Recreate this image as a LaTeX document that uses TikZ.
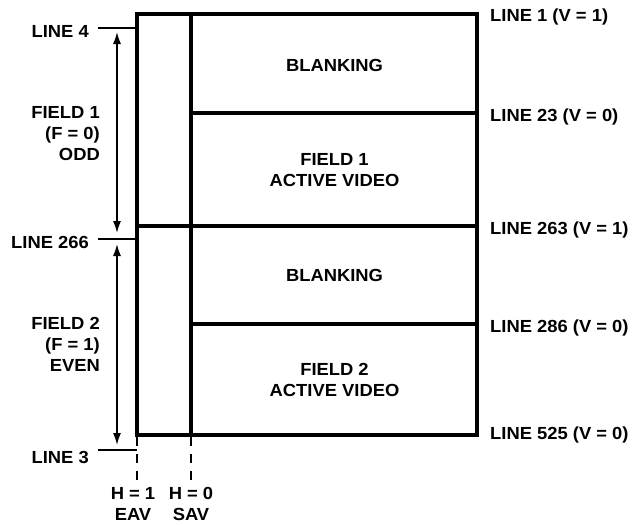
\documentclass[tikz,border=0pt]{standalone}
\usepackage{fontspec}
\setmainfont{Liberation Sans}[FakeStretch=1.05]
\usetikzlibrary{arrows.meta}
\begin{document}
\begin{tikzpicture}[x=1pt,y=-1pt,
  lbl/.style={font=\bfseries\fontsize{17.5}{21}\selectfont, inner sep=0pt},
  frame/.style={line width=3.2pt, line join=miter},
  ticklin/.style={line width=1.4pt},
  dimarrow/.style={line width=1.6pt, {Latex[length=12pt,width=8pt]}-{Latex[length=12pt,width=8pt]}},
  dashlin/.style={line width=2pt, dash pattern=on 9pt off 8pt}]
\useasboundingbox (0,0) rectangle (635,525);
% frame coordinates
\coordinate (TL) at (137,14);
\coordinate (TR) at (477,14);
\coordinate (BL) at (137,435);
\coordinate (BR) at (477,435);
\coordinate (VT) at (191,14);
\coordinate (VB) at (191,435);
\coordinate (L23a) at (191,113);
\coordinate (L23b) at (477,113);
\coordinate (L263a) at (137,226);
\coordinate (L263b) at (477,226);
\coordinate (L286a) at (191,324);
\coordinate (L286b) at (477,324);
\draw[frame] (TL) rectangle (BR);
\draw[frame] (VT) -- (VB);
\draw[frame] (L23a) -- (L23b);
\draw[frame] (L263a) -- (L263b);
\draw[frame] (L286a) -- (L286b);
% centre labels
\node[lbl] (blank1) at (334.5,65.5) {BLANKING};
\node[lbl, align=center] (act1) at (334.5,170) {FIELD 1\\ACTIVE VIDEO};
\node[lbl] (blank2) at (334.5,275.5) {BLANKING};
\node[lbl, align=center] (act2) at (334.5,380) {FIELD 2\\ACTIVE VIDEO};
% right labels
\node[lbl, anchor=base west] (r1) at (490,21) {LINE 1 (V = 1)};
\node[lbl, anchor=base west] (r23) at (490,121) {LINE 23 (V = 0)};
\node[lbl, anchor=base west] (r263) at (490,234) {LINE 263 (V = 1)};
\node[lbl, anchor=base west] (r286) at (490,332) {LINE 286 (V = 0)};
\node[lbl, anchor=base west] (r525) at (490,439) {LINE 525 (V = 0)};
% left tick labels
\node[lbl, anchor=base east] (l4) at (89,37) {LINE 4};
\node[lbl, anchor=base east] (l266) at (89,248) {LINE 266};
\node[lbl, anchor=base east] (l3) at (89,463) {LINE 3};
\coordinate (t4a) at (98,28);   \coordinate (t4b) at (137,28);
\coordinate (t266a) at (98,239); \coordinate (t266b) at (137,239);
\coordinate (t3a) at (98,450);  \coordinate (t3b) at (137,450);
\draw[ticklin] (t4a) -- (t4b);
\draw[ticklin] (t266a) -- (t266b);
\draw[ticklin] (t3a) -- (t3b);
% field labels
\node[lbl, align=right, anchor=east] (f1) at (100,133.5) {FIELD 1\\(F = 0)\\ODD};
\node[lbl, align=right, anchor=east] (f2) at (100,344) {FIELD 2\\(F = 1)\\EVEN};
% dimension arrows
\coordinate (a1t) at (117,32);  \coordinate (a1b) at (117,233);
\coordinate (a2t) at (117,244); \coordinate (a2b) at (117,445);
\draw[dimarrow] (a1t) -- (a1b);
\draw[dimarrow] (a2t) -- (a2b);
% dashed markers
\coordinate (d1t) at (137,437); \coordinate (d1b) at (137,480);
\coordinate (d2t) at (191,437); \coordinate (d2b) at (191,480);
\draw[dashlin] (d1t) -- (d1b);
\draw[dashlin] (d2t) -- (d2b);
\node[lbl, align=center] (eav) at (133,504) {H = 1\\EAV};
\node[lbl, align=center] (sav) at (191,504) {H = 0\\SAV};
\end{tikzpicture}
\end{document}
